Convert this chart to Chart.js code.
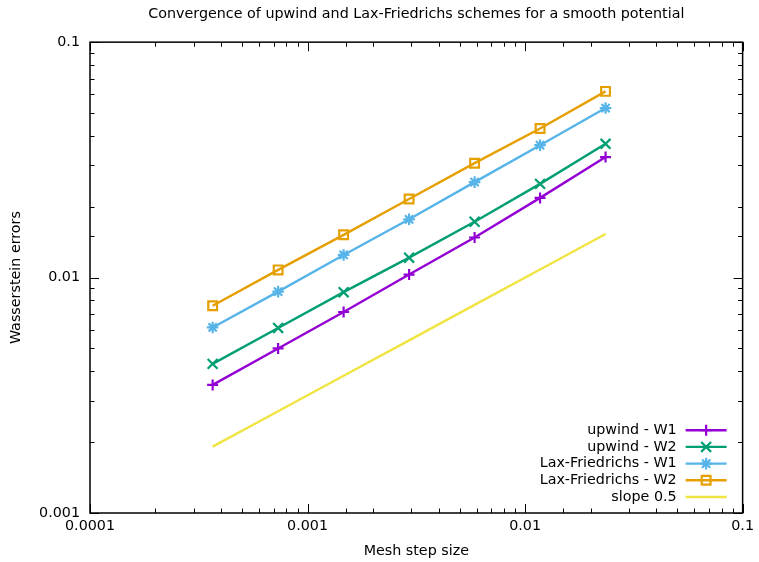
<!DOCTYPE html>
<html>
<head>
<meta charset="utf-8">
<title>Convergence of upwind and Lax-Friedrichs schemes</title>
<script src="https://cdn.jsdelivr.net/npm/chart.js@4.4.1/dist/chart.umd.min.js"></script>
<style>
  html, body { margin: 0; padding: 0; background: #fff; }
  canvas { display: block; }
</style>
</head>
<body>
<canvas id="chart" width="759" height="562"></canvas>
<script>
// mesh step sizes, halved at each refinement
const meshSteps = [0.0003662109375, 0.000732421875, 0.00146484375, 0.0029296875, 0.005859375, 0.01171875, 0.0234375];

// Wasserstein errors for each scheme, same order as meshSteps
const upwindW1 = [0.00350, 0.00500, 0.00714, 0.0103, 0.0148, 0.0218, 0.0325];
const upwindW2 = [0.00430, 0.00611, 0.00867, 0.01215, 0.01727, 0.0250, 0.0370];
const laxW1 = [0.00614, 0.00872, 0.01248, 0.01768, 0.02544, 0.0365, 0.0525];
const laxW2 = [0.00759, 0.01078, 0.01519, 0.02156, 0.03062, 0.0430, 0.0618];
// reference line of order 1/2
const slopeHalf = [0.001914, 0.002706, 0.003827, 0.005413, 0.007655, 0.010825, 0.015309];

const xTickLabels = ['0.0001', '0.001', '0.01', '0.1'];
const yTickLabels = ['0.001', '0.01', '0.1'];

const FONT = { family: 'DejaVu Sans', size: 14.3 };
Chart.defaults.color = '#000';
Chart.defaults.font.family = FONT.family;
Chart.defaults.font.size = FONT.size;

const isDecade = v => Math.abs(Math.log10(v) - Math.round(Math.log10(v))) < 1e-6;
const labelFor = (list, v) => {
  if (!isDecade(v)) return '';
  return list.find(s => Math.abs(parseFloat(s) - v) / v < 1e-6) || '';
};
const pts = ys => meshSteps.map((h, i) => ({ x: h, y: ys[i] }));

// gnuplot style border with inward (and mirrored) tick marks
const frameTicks = {
  id: 'frameTicks',
  afterDatasetsDraw(chart) {
    const { ctx, chartArea: a, scales } = chart;
    ctx.save();
    ctx.strokeStyle = '#000';
    ctx.lineWidth = 1;
    ctx.beginPath();
    scales.x.ticks.forEach(t => {
      const px = Math.round(scales.x.getPixelForValue(t.value)) + 0.5;
      const len = isDecade(t.value) ? 9 : 4.5;
      ctx.moveTo(px, a.bottom); ctx.lineTo(px, a.bottom - len);
      ctx.moveTo(px, a.top); ctx.lineTo(px, a.top + len);
    });
    scales.y.ticks.forEach(t => {
      const py = Math.round(scales.y.getPixelForValue(t.value)) + 0.5;
      const len = isDecade(t.value) ? 9 : 4.5;
      ctx.moveTo(a.left, py); ctx.lineTo(a.left + len, py);
      ctx.moveTo(a.right, py); ctx.lineTo(a.right - len, py);
    });
    ctx.stroke();
    ctx.lineWidth = 1.5;
    ctx.strokeRect(a.left, a.top, a.right - a.left, a.bottom - a.top);
    ctx.restore();
  }
};

// key in the lower right corner: label, then line sample with its marker
const cornerKey = {
  id: 'cornerKey',
  afterDraw(chart) {
    const { ctx, chartArea: a } = chart;
    const sets = chart.data.datasets;
    const rowH = 16.7;
    const textRight = a.right - 66;
    const lineL = a.right - 57, lineR = a.right - 16;
    ctx.save();
    ctx.font = FONT.size + 'px "' + FONT.family + '"';
    ctx.textAlign = 'right';
    ctx.textBaseline = 'middle';
    sets.forEach((ds, i) => {
      const y = a.bottom - 16 - (sets.length - 1 - i) * rowH;
      ctx.fillStyle = '#000';
      ctx.fillText(ds.label, textRight, y);
      ctx.strokeStyle = ds.borderColor;
      ctx.lineWidth = ds.borderWidth;
      ctx.beginPath();
      ctx.moveTo(lineL, y); ctx.lineTo(lineR, y);
      ctx.stroke();
      if (ds.pointRadius > 0) {
        ctx.lineWidth = ds.pointBorderWidth;
        ctx.fillStyle = ds.pointBackgroundColor;
        Chart.helpers.drawPoint(ctx, {
          pointStyle: ds.pointStyle, radius: ds.pointRadius, rotation: 0,
          borderWidth: ds.pointBorderWidth
        }, (lineL + lineR) / 2, y);
      }
    });
    ctx.restore();
  }
};

const series = (label, data, color, style, radius) => ({
  label, data: pts(data),
  borderColor: color, borderWidth: 2.4,
  pointStyle: style, pointRadius: radius, pointHoverRadius: radius,
  pointBorderColor: color, pointBackgroundColor: 'rgba(0,0,0,0)', pointBorderWidth: 2.2,
  fill: false, tension: 0
});

new Chart(document.getElementById('chart'), {
  type: 'line',
  data: {
    datasets: [
      series('upwind - W1', upwindW1, '#9400d3', 'cross', 5.5),
      series('upwind - W2', upwindW2, '#009e73', 'crossRot', 7),
      series('Lax-Friedrichs - W1', laxW1, '#56b4e9', 'star', 5.8),
      series('Lax-Friedrichs - W2', laxW2, '#e69f00', 'rect', 6.2),
      series('slope 0.5', slopeHalf, '#f0e442', 'circle', 0)
    ]
  },
  options: {
    responsive: false,
    animation: false,
    devicePixelRatio: 1,
    layout: { padding: { left: 0, right: 15, top: 0, bottom: 0 } },
    plugins: {
      legend: { display: false },
      tooltip: { enabled: false },
      title: {
        display: true,
        fullSize: false,
        text: 'Convergence of upwind and Lax-Friedrichs schemes for a smooth potential',
        font: { size: FONT.size, weight: 'normal' },
        padding: { top: 6, bottom: 19 }
      }
    },
    scales: {
      x: {
        type: 'logarithmic',
        min: 0.0001, max: 0.1,
        afterFit: s => { s.height = 49; },
        grid: { display: false, drawTicks: false },
        border: { display: false },
        ticks: {
          autoSkip: false, maxRotation: 0, padding: 5,
          callback: v => labelFor(xTickLabels, v)
        },
        title: { display: true, text: 'Mesh step size', padding: { top: 0, bottom: 2 } }
      },
      y: {
        type: 'logarithmic',
        min: 0.001, max: 0.1,
        afterFit: s => { s.width = 90; },
        grid: { display: false, drawTicks: false },
        border: { display: false },
        ticks: {
          autoSkip: false, padding: 10,
          callback: v => labelFor(yTickLabels, v)
        },
        title: { display: true, text: 'Wasserstein errors', padding: { top: 8, bottom: 0 } }
      }
    }
  },
  plugins: [frameTicks, cornerKey]
});
</script>
</body>
</html>
